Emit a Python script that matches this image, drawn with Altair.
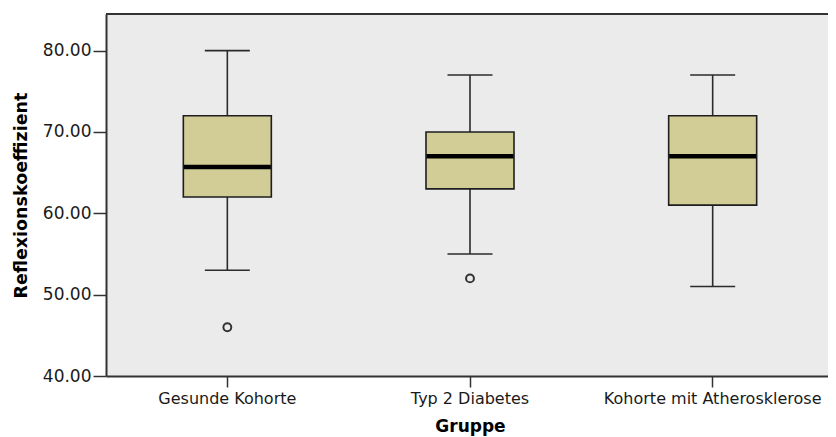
import altair as alt
import pandas as pd

groups = ["Gesunde Kohorte", "Typ 2 Diabetes", "Kohorte mit Atherosklerose"]
whisker_low = [53, 55, 51]
q1 = [62, 63, 61]
median = [65.7, 67, 67]
q3 = [72, 70, 72]
whisker_high = [80, 77, 77]

outlier_groups = ["Gesunde Kohorte", "Typ 2 Diabetes"]
outlier_values = [46, 52]

y_ticks = [40, 50, 60, 70, 80]

stats = pd.DataFrame({
    "Gruppe": groups,
    "lower": whisker_low,
    "q1": q1,
    "median": median,
    "q3": q3,
    "upper": whisker_high,
})
outliers = pd.DataFrame({"Gruppe": outlier_groups, "value": outlier_values})

FONT = "DejaVu Sans"
FRAME = "#333333"

x_enc = alt.X(
    "Gruppe:N",
    sort=groups,
    title="Gruppe",
    scale=alt.Scale(type="band", paddingInner=0, paddingOuter=0, range=[0, 728]),
    axis=alt.Axis(
        labelAngle=0,
        labelLimit=400,
        tickSize=11,
        tickWidth=1.5,
        tickColor=FRAME,
        labelPadding=3,
        labelFont=FONT,
        labelFontSize=16,
        labelColor="#1a1a1a",
        titleFont=FONT,
        titleFontSize=17,
        titleFontWeight="bold",
        titleColor="#000000",
        titlePadding=12,
        domain=True,
        domainColor=FRAME,
        domainWidth=2,
        grid=False,
    ),
)

y_scale = alt.Scale(domain=[40, 84.5], nice=False, zero=False)
y_axis = alt.Axis(
    values=y_ticks,
    format=".2f",
    tickSize=13,
    tickWidth=1.5,
    tickColor=FRAME,
    labelPadding=2,
    labelFont=FONT,
    labelFontSize=17,
    labelColor="#1a1a1a",
    titleFont=FONT,
    titleFontSize=17.5,
    titleFontWeight="bold",
    titleColor="#000000",
    titlePadding=12,
    domain=True,
    domainColor=FRAME,
    domainWidth=2,
    grid=False,
)

base = alt.Chart(stats)

whisker = base.mark_rule(color="#2b2b2b", strokeWidth=1.6).encode(
    x=x_enc,
    y=alt.Y("lower:Q", scale=y_scale, axis=y_axis, title="Reflexionskoeffizient"),
    y2="upper:Q",
)

cap_low = base.mark_tick(color="#2b2b2b", size=45, thickness=1.6, opacity=1).encode(
    x=alt.X("Gruppe:N", sort=groups),
    y=alt.Y("lower:Q"),
)
cap_high = base.mark_tick(color="#2b2b2b", size=45, thickness=1.6, opacity=1).encode(
    x=alt.X("Gruppe:N", sort=groups),
    y=alt.Y("upper:Q"),
)

box = base.mark_bar(
    size=88, color="#d2cd97", stroke="#1e1e1e", strokeWidth=1.6, opacity=1
).encode(
    x=alt.X("Gruppe:N", sort=groups),
    y=alt.Y("q1:Q"),
    y2="q3:Q",
)

med = base.mark_tick(color="#000000", size=87, thickness=4.5, opacity=1).encode(
    x=alt.X("Gruppe:N", sort=groups),
    y=alt.Y("median:Q"),
)

pts = alt.Chart(outliers).mark_point(
    shape="circle", filled=False, size=62, strokeWidth=2, color="#333333", opacity=1
).encode(
    x=alt.X("Gruppe:N", sort=groups),
    y=alt.Y("value:Q"),
)

top_frame = alt.Chart(pd.DataFrame({"k": [0]})).mark_rule(
    color=FRAME, strokeWidth=2
).encode(x=alt.value(0), x2=alt.value(760), y=alt.value(0))

chart = (
    alt.layer(whisker, cap_low, cap_high, box, med, pts, top_frame)
    .properties(
        width=722,
        height=362,
        autosize=alt.AutoSizeParams(type="none"),
        padding={"left": 98, "top": 6, "right": 0, "bottom": 62},
        background="#ffffff",
    )
    .configure_view(fill="#ebebeb", stroke="transparent", strokeWidth=0)
)

chart.save("out.html", embed_options={"renderer": "svg", "actions": False})
